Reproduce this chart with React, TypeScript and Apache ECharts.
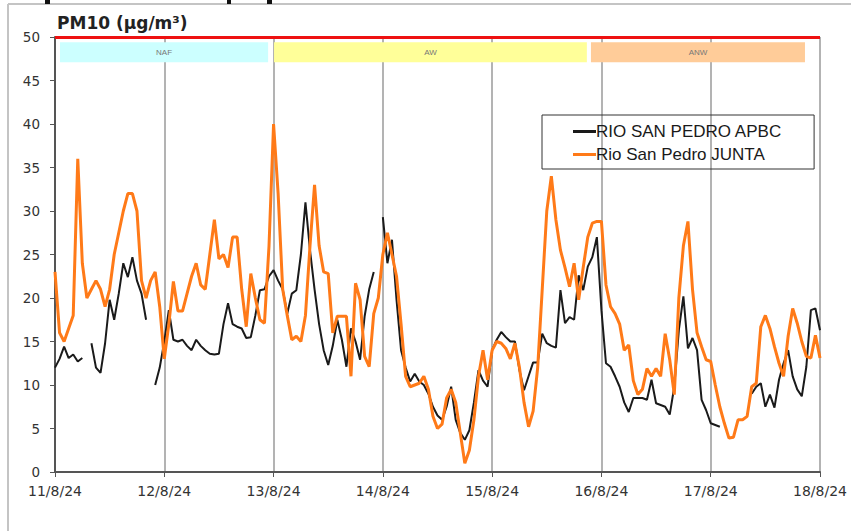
import React, { useEffect, useRef } from "react";
import * as echarts from "echarts";

// Hourly values from 11/8/24 00:00 to 18/8/24 00:00 (169 points)
const apbc: (number | null)[] = [
  12, 13, 14.4, 13.1, 13.5, 12.7, 13.1, null, 14.8, 12, 11.4, 14.8, 19.8, 17.5, 20.5, 24, 22.4, 24.7, 22, 20.5, 17.5, null, 10, 12,
  15, 18.6, 15.2, 15, 15.2, 14.5, 14, 15.2, 14.5, 14, 13.6, 13.5, 13.6, 17, 19.4, 17, 16.7, 16.5, 15.4, 15.5, 18, 20.9, 21, 22.5,
  23.2, 22, 21, 18.2, 20.5, 20.9, 25, 31, 25.5, 21, 17, 14, 12.3, 14.5, 17.5, 15.2, 12.1, 16.5, 15, 12.9, 17.9, 21, 23, null,
  29.3, 24, 26.7, 19.8, 14, 12, 10.4, 11.3, 10.4, 10, 9, 7.5, 6.5, 6, 7.5, 9.8, 6, 4.5, 3.7, 4.8, 8, 11.7, 10.5, 9.8,
  14, 15.2, 16.1, 15.5, 15, 15, 11.7, 9.4, 11, 12.6, 12.6, 15.9, 14.8, 14.5, 14.3, 20.9, 17.1, 17.8, 17.5, 22.6, 20.9, 23.6, 24.7, 27,
  18.6, 12.5, 12.1, 11, 9.8, 8, 6.9, 8.5, 8.5, 8.5, 8.3, 10.6, 7.9, 7.7, 7.5, 6.6, 9.8, 16.3, 20.2, 14.2, 15.4, 14, 8.3, 7.1,
  5.6, 5.4, 5.2, null, null, null, null, null, null, 9, 9.8, 10.2, 7.5, 8.9, 7.4, 10.6, 12.5, 14, 11, 9.5, 8.7, 12.1, 18.6, 18.8,
  16.3,
];

const junta: (number | null)[] = [
  23, 16, 15, 16.5, 18, 36, 24, 20, 21, 22, 21, 19, 21, 25, 27.5, 30, 32, 32, 30, 22, 20, 22, 23, 19,
  13, 17, 21.9, 18.5, 18.5, 20.5, 22.5, 24, 21.5, 21, 25, 29, 24.5, 25, 23.5, 27, 27, 21, 16.7, 22.8, 20, 17.5, 17.1, 26,
  40, 32, 21, 18, 15.2, 15.6, 15, 18, 26, 33, 26, 23, 22.8, 16, 17.9, 17.9, 17.9, 11, 21.7, 19.8, 13.3, 12.1, 18.2, 20,
  25, 27.5, 25, 22.5, 17, 11, 9.8, 10, 10.2, 11, 9.5, 6.4, 5, 5.5, 8.5, 9.5, 8, 4.5, 1, 2.5, 6, 11, 14, 10.6,
  14, 15, 14.8, 14.2, 13, 14.8, 12, 8, 5.2, 7, 12, 21, 30, 34, 29, 25.5, 23.5, 21.3, 24, 19.8, 23.5, 27, 28.6, 28.8,
  28.8, 21.5, 19, 18.2, 17, 14, 14.6, 10.5, 8.9, 9.5, 11.9, 11, 11.9, 11, 15.9, 12.9, 8.9, 20, 26, 28.8, 21, 16, 14.4, 12.9,
  12.7, 10, 7.5, 5.6, 3.9, 4, 6, 6, 6.4, 9.8, 10.2, 16.7, 18, 16.5, 14.4, 12.5, 11, 15.6, 18.8, 17.1, 15, 13.3, 13.1, 15.7,
  13.1,
];

const seriesNames = ["RIO SAN PEDRO APBC", "Rio San Pedro JUNTA"];
const seriesColors = ["#1a1a1a", "#ff7a18"];
const dayLabels = ["11/8/24", "12/8/24", "13/8/24", "14/8/24", "15/8/24", "16/8/24", "17/8/24", "18/8/24"];
const limitValue = 50;

// Air-mass bands (hours from start)
const bandNames = ["NAF", "AW", "ANW"];
const bandStart = [1.1, 48.1, 117.7];
const bandEnd = [46.8, 116.8, 164.7];
const bandColors = ["#ccffff", "#ffff99", "#ffcc99"];
const bandLow = 47.1;
const bandHigh = 49.4;

export default function App() {
  const ref = useRef<HTMLDivElement>(null);
  useEffect(() => {
    document.body.style.margin = "0";
    const chart = echarts.init(ref.current!, undefined, { renderer: "svg" });
    const font = "'DejaVu Sans', Verdana, sans-serif";
    const arial = "'Liberation Sans', Arial, sans-serif";
    chart.setOption({
      animation: false,
      backgroundColor: "#ffffff",
      title: {
        text: "PM10 (μg/m³)",
        left: 52,
        top: 9,
        textStyle: { fontFamily: font, fontWeight: "bold", fontSize: 17, color: "#222" },
      },
      graphic: [
        { type: "line", shape: { x1: 8, y1: 4, x2: 851, y2: 4 }, style: { stroke: "#c4c4c4", lineWidth: 2 } },
        { type: "line", shape: { x1: 8, y1: 4, x2: 8, y2: 531 }, style: { stroke: "#c4c4c4", lineWidth: 2 } },
        { type: "rect", shape: { x: 45, y: 0, width: 5, height: 4 }, style: { fill: "#111" } },
        { type: "rect", shape: { x: 227, y: 0, width: 4, height: 4 }, style: { fill: "#111" } },
        { type: "rect", shape: { x: 267, y: 0, width: 5, height: 4 }, style: { fill: "#111" } },
      ],
      legend: {
        orient: "vertical",
        left: 542,
        top: 115,
        padding: [8, 32, 6, 31],
        itemGap: 6,
        itemWidth: 23,
        itemHeight: 3,
        borderColor: "#333",
        borderWidth: 1,
        textStyle: { fontFamily: arial, fontSize: 17, color: "#1a1a1a", padding: [0, 0, 0, -5] },
        data: seriesNames.map((n, i) => ({
          name: n,
          icon: "rect",
          itemStyle: { color: seriesColors[i] },
        })),
      },
      grid: { left: 55, right: 31, top: 37, bottom: 59, containLabel: false },
      xAxis: {
        type: "value",
        min: 0,
        max: 168,
        interval: 24,
        axisLine: { show: true, lineStyle: { color: "#555", width: 2 } },
        axisTick: { show: true, length: 5, lineStyle: { color: "#555" } },
        splitLine: { show: true, lineStyle: { color: "#9a9a9a", width: 1.5 } },
        axisLabel: {
          margin: 12,
          fontFamily: font,
          fontSize: 14,
          color: "#333",
          formatter: (v: number) => dayLabels[Math.round(v / 24)] ?? "",
        },
      },
      yAxis: {
        type: "value",
        min: 0,
        max: 50,
        interval: 5,
        axisLine: { show: true, lineStyle: { color: "#555", width: 2 } },
        axisTick: { show: true, length: 5, lineStyle: { color: "#555" } },
        splitLine: { show: false },
        axisLabel: { margin: 15, fontFamily: font, fontSize: 13.5, color: "#333" },
      },
      series: [
        {
          name: seriesNames[0],
          type: "line",
          data: apbc.map((v, i) => [i, v]),
          symbol: "none",
          connectNulls: false,
          lineStyle: { color: seriesColors[0], width: 2 },
          itemStyle: { color: seriesColors[0] },
          z: 3,
          markArea: {
            silent: true,
            data: bandNames.map((n, i) => [
              {
                name: n,
                xAxis: bandStart[i],
                yAxis: bandLow,
                itemStyle: { color: bandColors[i], opacity: 1 },
              },
              { xAxis: bandEnd[i], yAxis: bandHigh },
            ]),
            label: { show: true, position: "inside", fontSize: 8, color: "#777", fontFamily: arial },
          },
        },
        {
          name: seriesNames[1],
          type: "line",
          data: junta.map((v, i) => [i, v]),
          symbol: "none",
          connectNulls: false,
          lineStyle: { color: seriesColors[1], width: 3 },
          itemStyle: { color: seriesColors[1] },
          z: 4,
          markLine: {
            silent: true,
            symbol: "none",
            label: { show: false },
            lineStyle: { color: "#ee1111", width: 3, type: "solid" },
            data: [{ yAxis: limitValue }],
          },
        },
      ],
    });
    return () => chart.dispose();
  }, []);
  return <div ref={ref} style={{ width: 851, height: 531 }} />;
}
